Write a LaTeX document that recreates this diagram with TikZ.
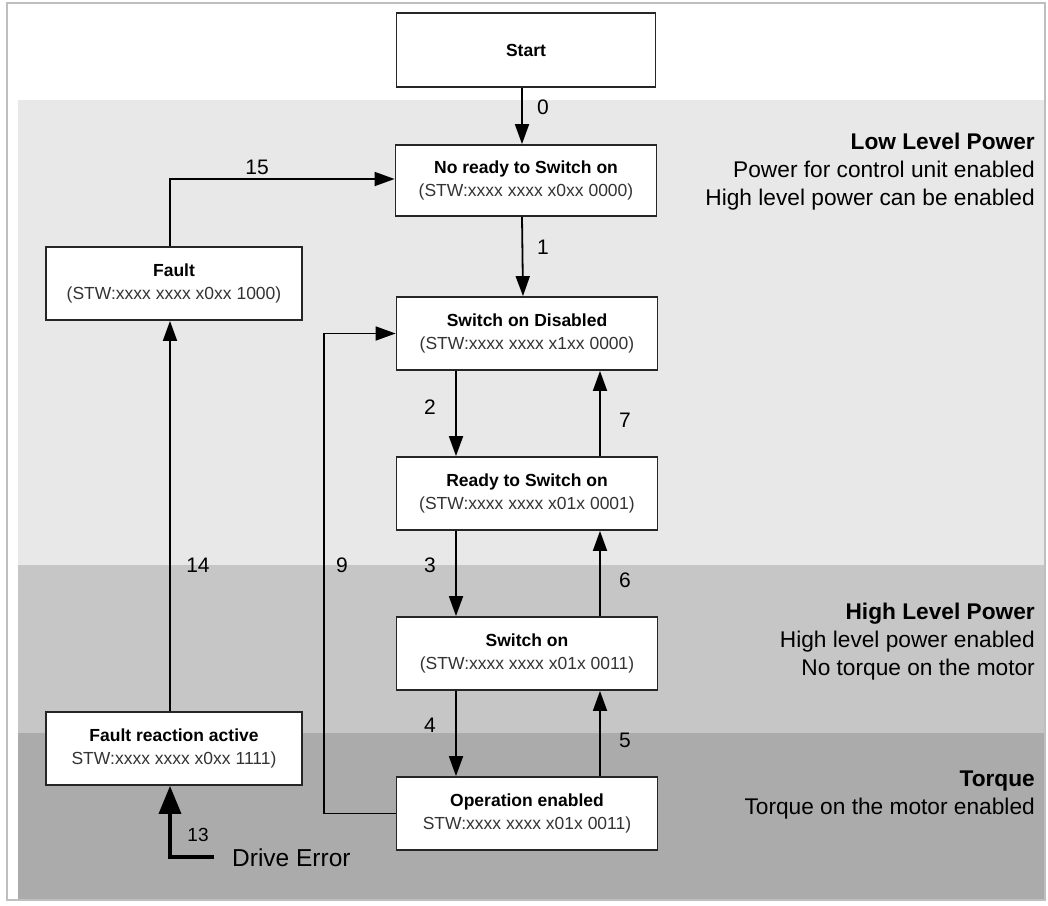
\documentclass[tikz,border=0pt]{standalone}
\usepackage{fontspec}
\setmainfont{Liberation Sans}
\usetikzlibrary{arrows.meta}
\definecolor{lowband}{HTML}{E8E8E8}
\definecolor{highband}{HTML}{C6C6C6}
\definecolor{torqueband}{HTML}{ABABAB}
\definecolor{stwgrey}{HTML}{333333}
\begin{document}
\begin{tikzpicture}[x=1pt,y=-1pt,
  state/.style={draw=black!85, line width=1.8pt, fill=white, minimum width=261pt,
    minimum height=73pt, align=center, inner sep=0pt,
    font=\fontsize{17.5}{23}\selectfont},
  arr/.style={line width=1.8pt, -{Triangle[length=20pt,width=14pt]}},
  lbl/.style={font=\fontsize{21}{21}\selectfont, inner sep=0pt},
  side/.style={align=right, anchor=north east, inner sep=0pt,
    font=\fontsize{22.7}{28}\selectfont}]
\useasboundingbox (0,0) rectangle (1048,905);
\fill[white] (0,0) rectangle (1048,905);
% bands
\fill[lowband] (18,100) rectangle (1045,565);
\fill[highband] (18,565) rectangle (1045,733);
\fill[torqueband] (18,733) rectangle (1045,899);
\draw[black!25, line width=1.5pt] (7,3) rectangle (1045,900);
% side texts
\node[side] (low) at (1035,133) {\textbf{Low Level Power}\\Power for control unit enabled\\High level power can be enabled};
\node[side] (high) at (1035,603) {\textbf{High Level Power}\\High level power enabled\\No torque on the motor};
\node[side] (torq) at (1035,771) {\textbf{Torque}\\Torque on the motor enabled};
% states
\node[state, minimum width=259pt, minimum height=74pt] (start) at (526,50) {\textbf{Start}};
\node[state, minimum height=71pt] (noready) at (526,180.5) {\textbf{No ready to Switch on}\\{\color{stwgrey}(STW:xxxx xxxx x0xx 0000)}};
\node[state] (sod) at (527,333.5) {\textbf{Switch on Disabled}\\{\color{stwgrey}(STW:xxxx xxxx x1xx 0000)}};
\node[state] (ready) at (527,493.5) {\textbf{Ready to Switch on}\\{\color{stwgrey}(STW:xxxx xxxx x01x 0001)}};
\node[state] (swon) at (527,653.5) {\textbf{Switch on}\\{\color{stwgrey}(STW:xxxx xxxx x01x 0011)}};
\node[state] (op) at (527,813.5) {\textbf{Operation enabled}\\{\color{stwgrey}STW:xxxx xxxx x01x 0011)}};
\node[state, minimum width=256pt] (fault) at (174,283.5) {\textbf{Fault}\\{\color{stwgrey}(STW:xxxx xxxx x0xx 1000)}};
\node[state, minimum width=256pt] (fra) at (174,748.5) {\textbf{Fault reaction active}\\{\color{stwgrey}STW:xxxx xxxx x0xx 1111)}};
% transitions
\draw[arr] ([xshift=-4pt]start.south) -- ([xshift=-4pt]noready.north);
\draw[arr] ([xshift=-4pt]noready.south) -- ([xshift=-4pt]sod.north);
\draw[arr] ([xshift=-71pt]sod.south) -- ([xshift=-71pt]ready.north);
\draw[arr] ([xshift=-71pt]ready.south) -- ([xshift=-71pt]swon.north);
\draw[arr] ([xshift=-71pt]swon.south) -- ([xshift=-71pt]op.north);
\draw[arr] ([xshift=73pt]op.north) -- ([xshift=73pt]swon.south);
\draw[arr] ([xshift=73pt]swon.north) -- ([xshift=73pt]ready.south);
\draw[arr] ([xshift=73pt]ready.north) -- ([xshift=73pt]sod.south);
\coordinate (c9) at (324,813.5);
\draw[arr] (op.west) -- (c9) |- (sod.west);
\draw[arr] ([xshift=-4pt]fault.north) |- ([yshift=1.5pt]noready.west);
\draw[arr] ([xshift=-4pt]fra.north) -- ([xshift=-4pt]fault.south);
\coordinate (de) at (214,857);
\draw[line width=3.6pt, -{Triangle[length=28pt,width=22pt]}] (de) -| ([xshift=-4pt]fra.south);
% labels
\node[lbl] (l0) at (543,107) {0};
\node[lbl] (l1) at (543,247) {1};
\node[lbl] (l2) at (430,407) {2};
\node[lbl] (l7) at (625,420) {7};
\node[lbl] (l3) at (430,565) {3};
\node[lbl] (l6) at (625,580) {6};
\node[lbl] (l4) at (430,725) {4};
\node[lbl] (l5) at (625,740) {5};
\node[lbl] (l9) at (342,565) {9};
\node[lbl] (l14) at (198,565) {14};
\node[lbl] (l15) at (257,167) {15};
\node[lbl, font=\fontsize{19}{19}\selectfont] (l13) at (198,835) {13};
\node[anchor=west, inner sep=0pt, font=\fontsize{24.5}{25}\selectfont] (derr) at (232,858) {Drive Error};
\end{tikzpicture}
\end{document}
